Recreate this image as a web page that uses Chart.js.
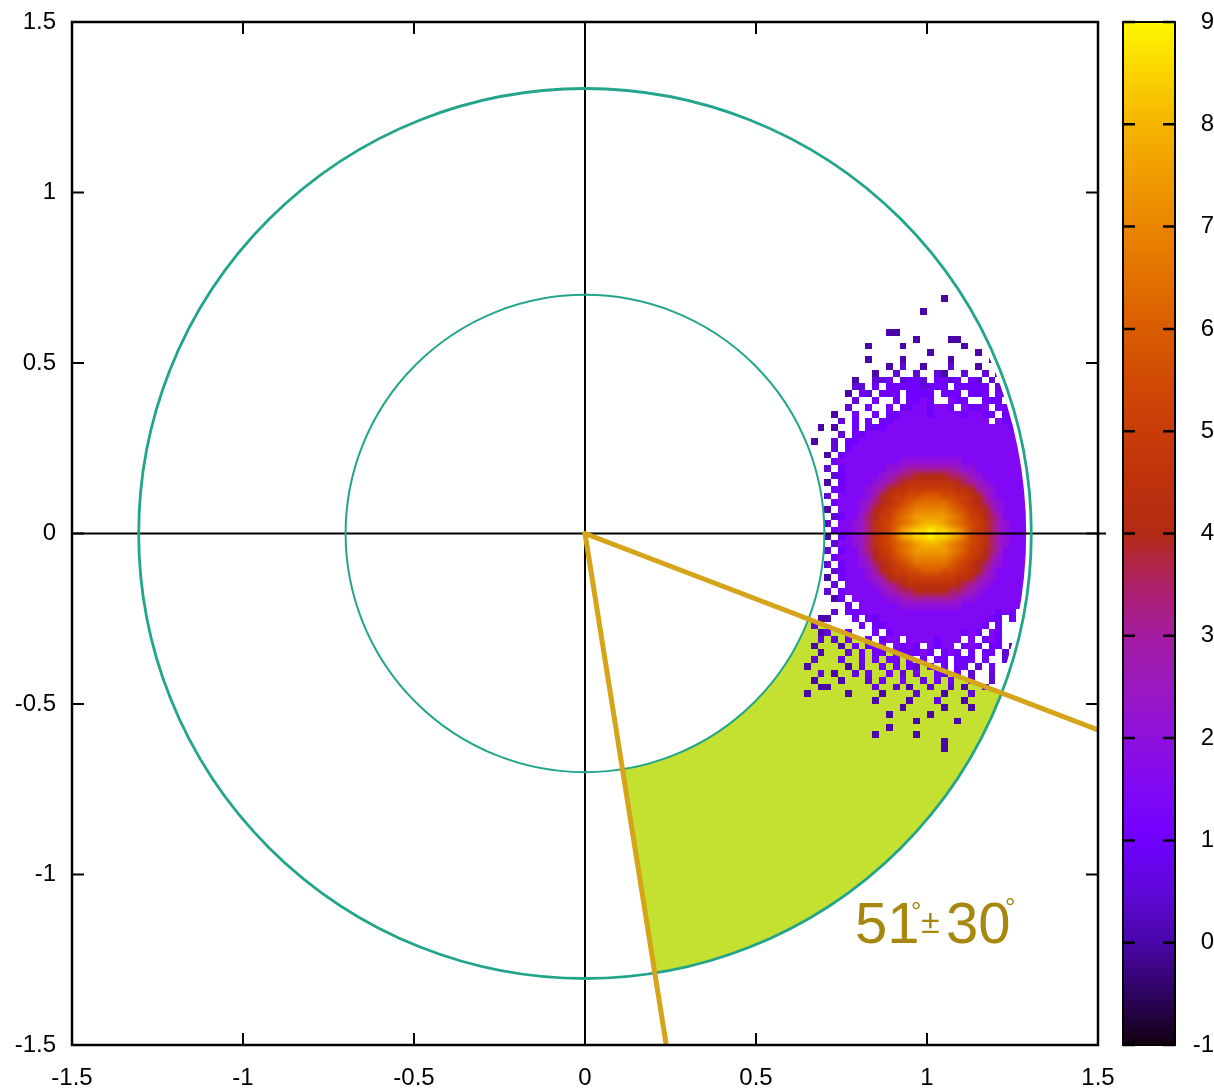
<!DOCTYPE html>
<html>
<head>
<meta charset="utf-8">
<title>Azimuthal acceptance</title>
<script src="https://cdn.jsdelivr.net/npm/chart.js@4.4.1/dist/chart.umd.min.js"></script>
<style>
  html, body { margin: 0; padding: 0; background: #fff; overflow: hidden; }
  #wrap { position: relative; width: 1214px; height: 1091px; }
</style>
</head>
<body>
<div id="wrap"><canvas id="plot"></canvas></div>
<script>
// axis ticks (same on x and y) and colour-box ticks
const axisTicks = [-1.5, -1, -0.5, 0, 0.5, 1, 1.5];
const colorTicks = [-1, 0, 1, 2, 3, 4, 5, 6, 7, 8, 9];

// ring radii and the 51 +- 30 degree cut below the x axis
const ringRadii = [0.70, 1.305];
const cutCenterDeg = -51;
const cutHalfWidthDeg = 30;

// colour scale: value -> colour
const paletteValues = [-1, -0.5, 0, 0.5, 1, 1.5, 2, 2.5, 3, 3.5, 4, 4.5, 5, 5.5, 6, 6.5, 7, 7.5, 8, 8.5, 9];
const paletteColors = ['#120010', '#2e0460', '#4a06a8', '#5f08d8', '#7000ff', '#8008f4', '#8f10dc',
  '#9a18c0', '#a41ca0', '#ad2068', '#b32a14', '#bd320c', '#c73c08', '#d04a05', '#d95c00',
  '#e27000', '#e98500', '#f09c00', '#f5b400', '#fad400', '#fff700'];

// 2D histogram, 0.02 bins starting at x = 0.64, y = 0.70 (top row first).
// each letter is a palette index (a = -1 ... u = 9), '.' is an empty bin
const heatX0 = 0.64;
const heatY0 = 0.70;
const heatStep = 0.02;
const heatCodes = 'abcdefghijklmnopqrstu';
const heatRows = [
  '..... ..... ..... ..... c.... ..... ....',
  '..... ..... ..... ..... ..... ..... ....',
  '..... ..... ..... ..c.. ..... ..... ....',
  '..... ..... ..... ..... ..... ..... ....',
  '..... ..... ..... ..... ..... ..... ....',
  '..... ..... ..cc. ..... ..... ..... ....',
  '..... ..... ..... .c... .cc.. ..... ....',
  '..... ....c ....c ..... ...c. ..... ....',
  '..... ..... ..... ...c. ..... c.... ....',
  '..... ....c ....c ..... .c... ..c.. ....',
  '..... ..... ..c.d ..c.. .d... c.... ....',
  '..... ..... c..d. .d..d c..d. .d.c. ....',
  '..... ..c.. dde.d eed.e ede.e d.d.. ....',
  '..... ..dd. e.eee eedee e.eee ee.d. ....',
  '..... .c.ed .eee. eeee. eee.e ee.ed ....',
  '..... ..d.. e..e. eefe. .fee. .eee. ....',
  '..... .d..e ..e.e effef fe.fe ef.ee d...',
  '....c ..e.. e.eef fffef fffef fee.e d...',
  '..... d.e.e .eeff fffff fffff ff.fe e...',
  '..c.c ..e.e eefff fffff fffff fffff e...',
  '..... d.eef fffff fffff fffff fffff fe..',
  '.c..d .eeff fffff fffff fffff fffff ffe.',
  '....d .efff fffff fffff fffff fffff ffe.',
  '...c. effff fffff fffff fffff fffff ffe.',
  '....e fffff ffffg ggggg gggff fffff ffe.',
  '...d. effff ffggh iiiii iihgg fffff fff.',
  '....d effff fghij jkkkk kjjih gffff fff.',
  '...c. effff ghijk lllll llkji hgfff fff.',
  '....e efffg hikll mmmmm mmllk ihgff fff.',
  '...d. ffffg iklmm nnooo nnmml kigff fff.',
  '....e fffgh jklmn opppp ponml kjhgf fff.',
  '...c. fffgi klmno pqqqq qponm lkigf fff.',
  '....d effhj kmmop qrrrr rqpom mkjhf fff.',
  '...d. ffghj lmnop qrsss rqpon mljhg fff.',
  '....e ffghj lmnpr sttut tsrpn mljhg fff.',
  '...c. efghj lmnpr sttut tsrpn mljhg fff.',
  '....d ffghj lmnop qrsss rqpon mljhg fff.',
  '...d. effhj kmmop qrrrr rqpom mkjhf fff.',
  '....e fffgi klmno pqqqq qponm lkigf fff.',
  '...d. effgh jklmn opppp ponml kjhgf fff.',
  '....d efffg iklmm nnooo nnmml kigff fff.',
  '...c. efffg hikll mmmmm mmllk ihgff fff.',
  '....d .ffff ghijk lllll llkji hgfff fff.',
  '...d. effff fghij jkkkk kjjih gffff fff.',
  '....c e.fff ffggh iiiii iihgg fffff fff.',
  '..... .e.ff ffffg ggggg gggff fffff ffe.',
  '....d .eeff fffff fffff fffff fffef e...',
  '..cc. ..e.e effff fffff fffff ffee. e...',
  '.d... ...e. eefff fffff fffff fe.e. ....',
  '..cd. .e... e.eff fffff fffef e.fe. ....',
  '..d.d .e..e .eff. ffffe fff.f .efe. ....',
  '.c... c.e.e ef.fe fe.fe ff.ef e.ee. d...',
  '..c.. .d.e. ee.fe eefe. efe.e .ee.d ....',
  '.d... d..e. e.ee. e.e.e e.eee .e..d ....',
  'c.... .c.d. .e.e. ed.e. e.ee. d.e.. ....',
  '..d.c ..d.e ..e.d .e..e d.e.d ..d.. ....',
  '.c... c...d .e..e ..d.e .e..d ..d.. ....',
  '..cc. ..... d..d. c..d. .d.c. .d... ....',
  'c.... .c... .c... .d... c...d ..... ....',
  '..... ..... c.... c...d ...c. ..... ....',
  '..... ..... ....c ..... c...c ..... ....',
  '..... ..... ..c.. ...c. ..... ..... ....',
  '..... ..... ..... .c... ..c.. ..... ....',
  '..... ..... ..c.. ..... ..... ..... ....',
  '..... ..... c.... .c... ..... ..... ....',
  '..... ..... ..... ..... c.... ..... ....',
  '..... ..... ..... ..... c.... ..... ....'
];

const FONT = '"Liberation Sans", Arial, Helvetica, sans-serif';
const RING = '#22a58a';
const CUT = '#d5a418';
const WEDGE = '#c4e030';
const LABEL = '#a8870f';

function hexToRgb(hex) {
  const n = parseInt(hex.slice(1), 16);
  return [n >> 16, (n >> 8) & 255, n & 255];
}

// paint the histogram into a tiny canvas, one pixel per bin
function buildHeatLayer(minIndex) {
  const rows = heatRows.map(r => r.replace(/ /g, ''));
  const w = Math.max(...rows.map(r => r.length));
  const h = rows.length;
  const c = document.createElement('canvas');
  c.width = w;
  c.height = h;
  const g = c.getContext('2d');
  const img = g.createImageData(w, h);
  rows.forEach((row, j) => {
    [...row].forEach((ch, i) => {
      const k = heatCodes.indexOf(ch);
      if (k < 0 || k < minIndex) return;
      const [r, gr, b] = hexToRgb(paletteColors[k]);
      const o = (j * w + i) * 4;
      img.data[o] = r;
      img.data[o + 1] = gr;
      img.data[o + 2] = b;
      img.data[o + 3] = 255;
    });
  });
  g.putImageData(img, 0, 0);
  return { canvas: c, cols: w, rows: h };
}

const heatAll = buildHeatLayer(0);
const heatCore = buildHeatLayer(6); // dense core gets drawn smoothed on top

// cut lines run from the origin to the frame
const cutAngles = [cutCenterDeg + cutHalfWidthDeg, cutCenterDeg - cutHalfWidthDeg];
const cutLines = cutAngles.map(deg => {
  const t = deg * Math.PI / 180;
  const c = Math.cos(t), s = Math.sin(t);
  const len = 1.5 / Math.max(Math.abs(c), Math.abs(s));
  return {
    data: [{ x: 0, y: 0 }, { x: len * c, y: len * s }],
    showLine: true,
    borderColor: CUT,
    borderWidth: 5,
    borderCapStyle: 'round',
    pointRadius: 0
  };
});

const polarPlot = {
  id: 'polarPlot',
  beforeDatasetsDraw(chart) {
    const { ctx, chartArea: a, scales: { x, y } } = chart;
    const cx = x.getPixelForValue(0), cy = y.getPixelForValue(0);
    const rx = r => x.getPixelForValue(r) - cx;
    const ry = r => cy - y.getPixelForValue(r);
    const [rIn, rOut] = ringRadii;

    ctx.save();
    ctx.beginPath();
    ctx.rect(a.left, a.top, a.right - a.left, a.bottom - a.top);
    ctx.clip();

    // acceptance wedge between the two rings
    const a1 = -cutAngles[0] * Math.PI / 180;
    const a2 = -cutAngles[1] * Math.PI / 180;
    ctx.beginPath();
    ctx.ellipse(cx, cy, rx(rOut), ry(rOut), 0, a1, a2);
    ctx.ellipse(cx, cy, rx(rIn), ry(rIn), 0, a2, a1, true);
    ctx.closePath();
    ctx.fillStyle = WEDGE;
    ctx.fill();

    // histogram, kept inside the annulus
    const left = x.getPixelForValue(heatX0);
    const right = x.getPixelForValue(heatX0 + heatAll.cols * heatStep);
    const top = y.getPixelForValue(heatY0);
    const bottom = y.getPixelForValue(heatY0 - heatAll.rows * heatStep);
    ctx.save();
    ctx.beginPath();
    ctx.ellipse(cx, cy, rx(rOut - 0.015), ry(rOut - 0.015), 0, 0, 2 * Math.PI);
    ctx.moveTo(cx + rx(rIn), cy);
    ctx.ellipse(cx, cy, rx(rIn), ry(rIn), 0, 0, 2 * Math.PI);
    ctx.clip('evenodd');
    ctx.imageSmoothingEnabled = false;
    ctx.drawImage(heatAll.canvas, left, top, right - left, bottom - top);
    ctx.imageSmoothingEnabled = true;
    ctx.imageSmoothingQuality = 'low';
    ctx.drawImage(heatCore.canvas, left, top, right - left, bottom - top);
    ctx.restore();
    ctx.restore();

    // zero axes
    ctx.save();
    ctx.strokeStyle = '#000';
    ctx.lineWidth = 2;
    ctx.beginPath();
    ctx.moveTo(a.left, cy);
    ctx.lineTo(a.right + 8, cy);
    ctx.moveTo(cx, a.top);
    ctx.lineTo(cx, a.bottom);
    ctx.stroke();

    // rings
    ctx.strokeStyle = RING;
    ringRadii.forEach((r, i) => {
      ctx.lineWidth = i ? 2.8 : 2;
      ctx.beginPath();
      ctx.ellipse(cx, cy, rx(r), ry(r), 0, 0, 2 * Math.PI);
      ctx.stroke();
    });
    ctx.restore();
  },
  afterDraw(chart) {
    const { ctx, chartArea: a, scales: { x, y, cb } } = chart;
    ctx.save();

    // frame with inward ticks on all sides
    ctx.strokeStyle = '#000';
    ctx.lineWidth = 2.5;
    ctx.strokeRect(a.left, a.top, a.right - a.left, a.bottom - a.top);
    ctx.lineWidth = 2;
    ctx.beginPath();
    axisTicks.forEach(v => {
      const px = x.getPixelForValue(v), py = y.getPixelForValue(v);
      ctx.moveTo(px, a.bottom); ctx.lineTo(px, a.bottom - 12);
      ctx.moveTo(px, a.top); ctx.lineTo(px, a.top + 12);
      ctx.moveTo(a.left, py); ctx.lineTo(a.left + 12, py);
      ctx.moveTo(a.right, py); ctx.lineTo(a.right - 12, py);
    });
    ctx.stroke();

    // colour box
    const bx0 = a.right + 25, bx1 = a.right + 77;
    const top = cb.getPixelForValue(cb.max), bot = cb.getPixelForValue(cb.min);
    const grad = ctx.createLinearGradient(0, bot, 0, top);
    paletteValues.forEach((v, i) => {
      grad.addColorStop((v - cb.min) / (cb.max - cb.min), paletteColors[i]);
    });
    ctx.fillStyle = grad;
    ctx.fillRect(bx0, top, bx1 - bx0, bot - top);
    ctx.lineWidth = 2;
    ctx.strokeRect(bx0, top, bx1 - bx0, bot - top);
    ctx.lineWidth = 2.5;
    ctx.beginPath();
    colorTicks.forEach(v => {
      const py = cb.getPixelForValue(v);
      ctx.moveTo(bx0, py); ctx.lineTo(bx0 + 12, py);
      ctx.moveTo(bx1, py); ctx.lineTo(bx1 - 12, py);
    });
    ctx.stroke();

    // cut label
    ctx.fillStyle = LABEL;
    ctx.textAlign = 'left';
    ctx.textBaseline = 'alphabetic';
    ctx.font = '58px ' + FONT;
    ctx.fillText('51', 855, 943);
    ctx.fillText('30', 946, 943);
    ctx.font = '26px ' + FONT;
    ctx.fillText('\u00b0', 911, 920);
    ctx.fillText('\u00b0', 1005, 916);
    ctx.font = '34px ' + FONT;
    ctx.fillText('\u00b1', 921, 933);
    ctx.restore();
  }
};

Chart.defaults.font.family = FONT;
Chart.defaults.font.size = 24;
Chart.defaults.color = '#000';

const tickFont = { family: FONT, size: 24 };

// fixed axis sizes so the plot box lands where it should
function fixSize(prop, size) {
  return s => {
    s[prop] = size;
    s.paddingTop = 0;
    s.paddingBottom = 0;
    s.paddingLeft = 0;
    s.paddingRight = 0;
  };
}

new Chart(document.getElementById('plot'), {
  type: 'scatter',
  data: { datasets: cutLines },
  options: {
    responsive: true,
    maintainAspectRatio: false,
    animation: false,
    layout: { padding: { top: 22, left: 0, right: 0, bottom: 0 } },
    plugins: { legend: { display: false }, tooltip: { enabled: false } },
    scales: {
      x: {
        type: 'linear', min: -1.5, max: 1.5,
        ticks: { stepSize: 0.5, padding: 19, font: tickFont, color: '#000', maxRotation: 0, callback: v => String(v) },
        grid: { display: false, drawTicks: false },
        border: { display: false },
        afterFit: fixSize('height', 46)
      },
      y: {
        type: 'linear', min: -1.5, max: 1.5,
        ticks: { stepSize: 0.5, padding: 16, font: tickFont, color: '#000', callback: v => String(v) },
        grid: { display: false, drawTicks: false },
        border: { display: false },
        afterFit: fixSize('width', 72)
      },
      cb: {
        type: 'linear', position: 'right', min: -1, max: 9,
        ticks: { stepSize: 1, padding: 94, crossAlign: 'far', font: tickFont, color: '#000' },
        grid: { display: false, drawTicks: false },
        border: { display: false },
        afterFit: fixSize('width', 116)
      }
    }
  },
  plugins: [polarPlot]
});
</script>
</body>
</html>
